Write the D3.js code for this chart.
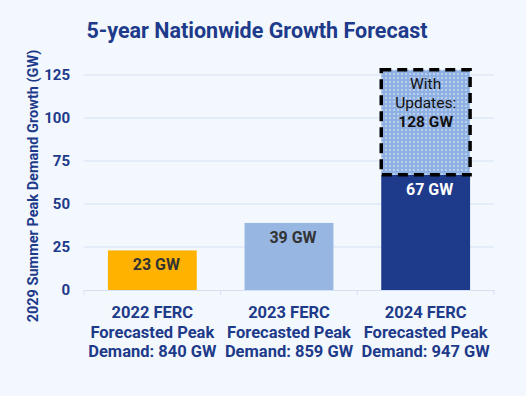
<!DOCTYPE html>
<html>
<head>
<meta charset="utf-8">
<script src="https://cdn.jsdelivr.net/npm/d3@7"></script>
<style>
  body { margin: 0; background: #f2f8fd; }
  svg { display: block; font-family: Roboto, "Noto Sans", sans-serif; }
</style>
</head>
<body>
<svg id="chart"></svg>
<script>
const categories = ['2022', '2023', '2024'];
const categoryLines = [
  ['2022 FERC', 'Forecasted Peak', 'Demand: 840 GW'],
  ['2023 FERC', 'Forecasted Peak', 'Demand: 859 GW'],
  ['2024 FERC', 'Forecasted Peak', 'Demand: 947 GW']
];
const growthValues = [23, 39, 67];
const valueLabels = ['23 GW', '39 GW', '67 GW'];
const updatedValue = 128;
const updatedLabel = ['With', 'Updates:', '128 GW'];
const yTicks = [0, 25, 50, 75, 100, 125];

const width = 526, height = 396;
const margin = { top: 70, right: 32, bottom: 106, left: 84 };
const navy = '#1e3a8a';
const barColors = ['#ffb300', '#97b6e2', '#1e3a8a'];

const svg = d3.select('#chart').attr('width', width).attr('height', height);

svg.append('rect').attr('width', width).attr('height', height).attr('fill', '#f2f8fd');

const x = d3.scaleBand()
  .domain(categories)
  .range([margin.left, width - margin.right])
  .paddingInner(0.35)
  .paddingOuter(0.175);

const y = d3.scaleLinear()
  .domain([0, 125])
  .range([height - margin.bottom, margin.top + 5]);

// dotted fill pattern
const defs = svg.append('defs');
const pat = defs.append('pattern')
  .attr('id', 'dots')
  .attr('patternUnits', 'userSpaceOnUse')
  .attr('width', 4).attr('height', 4);
pat.append('rect').attr('width', 4).attr('height', 4).attr('fill', '#8fb0e2');
pat.append('circle').attr('cx', 2).attr('cy', 2).attr('r', 0.75).attr('fill', '#ffffff');

// title
svg.append('text')
  .attr('x', 257).attr('y', 38)
  .attr('text-anchor', 'middle')
  .attr('font-size', 21.5).attr('font-weight', 700)
  .attr('fill', navy)
  .text('5-year Nationwide Growth Forecast');

// grid
svg.append('g')
  .selectAll('line')
  .data(yTicks.filter(d => d > 0))
  .join('line')
  .attr('x1', margin.left).attr('x2', width - margin.right)
  .attr('y1', d => y(d)).attr('y2', d => y(d))
  .attr('stroke', '#d5e0f5').attr('stroke-width', 1);

// y axis
const yAxis = svg.append('g')
  .attr('transform', `translate(${margin.left},0)`)
  .call(d3.axisLeft(y).tickValues(yTicks).tickSize(0).tickPadding(14));
yAxis.select('.domain').remove();
yAxis.selectAll('text')
  .attr('font-size', 15).attr('font-weight', 700)
  .attr('fill', navy).attr('font-family', 'Roboto, sans-serif');

svg.append('text')
  .attr('transform', `translate(38, ${y(0) - 104}) rotate(-90)`)
  .attr('text-anchor', 'middle')
  .attr('font-size', 14.5).attr('font-weight', 700)
  .attr('fill', navy)
  .text('2029 Summer Peak Demand Growth (GW)');

// bars
svg.append('g')
  .selectAll('rect')
  .data(growthValues)
  .join('rect')
  .attr('x', (d, i) => x(categories[i]))
  .attr('y', d => y(d))
  .attr('width', x.bandwidth())
  .attr('height', d => y(0) - y(d))
  .attr('fill', (d, i) => barColors[i]);

// updates box
const last = categories[2];
svg.append('rect')
  .attr('x', x(last))
  .attr('y', y(updatedValue))
  .attr('width', x.bandwidth())
  .attr('height', y(growthValues[2]) - y(updatedValue))
  .attr('fill', 'url(#dots)')
  .attr('stroke', '#000').attr('stroke-width', 3.5)
  .attr('stroke-dasharray', '10,6');

svg.append('text')
  .attr('x', x(last) + x.bandwidth() / 2)
  .attr('y', y(updatedValue))
  .attr('text-anchor', 'middle')
  .attr('font-size', 15.5)
  .attr('fill', '#111')
  .selectAll('tspan')
  .data(updatedLabel)
  .join('tspan')
  .attr('x', x(last) + x.bandwidth() / 2)
  .attr('dy', (d, i) => i === 0 ? 19 : 19)
  .attr('font-weight', (d, i) => i === 2 ? 700 : 400)
  .text(d => d);

// value labels
svg.append('g')
  .selectAll('text')
  .data(growthValues)
  .join('text')
  .attr('x', (d, i) => x(categories[i]) + x.bandwidth() / 2 + 4)
  .attr('y', d => y(d) + 20)
  .attr('text-anchor', 'middle')
  .attr('font-size', 16).attr('font-weight', 700)
  .attr('fill', (d, i) => i === 2 ? '#ffffff' : '#333333')
  .text((d, i) => valueLabels[i]);

// x axis
const xAxis = svg.append('g')
  .attr('transform', `translate(0,${y(0)})`)
  .call(d3.axisBottom(x).tickSize(0).tickFormat(''));
xAxis.select('.domain').attr('stroke', '#d5e0f5');

const bounds = [margin.left, ...categories.map(c => x(c) + x.bandwidth() + x.step() * x.paddingInner() / 2)];
bounds[3] = width - margin.right;
svg.append('g')
  .selectAll('line')
  .data(bounds)
  .join('line')
  .attr('x1', d => d).attr('x2', d => d)
  .attr('y1', y(0)).attr('y2', y(0) + 5)
  .attr('stroke', '#d5e0f5');

const labels = svg.append('g')
  .selectAll('text')
  .data(categoryLines)
  .join('text')
  .attr('x', (d, i) => x(categories[i]) + x.bandwidth() / 2)
  .attr('y', y(0) + 28)
  .attr('text-anchor', 'middle')
  .attr('font-size', 16.5).attr('font-weight', 700)
  .attr('fill', navy);
labels.selectAll('tspan')
  .data(d => d)
  .join('tspan')
  .attr('x', function () { return d3.select(this.parentNode).attr('x'); })
  .attr('dy', (d, i) => i === 0 ? 0 : 19.5)
  .text(d => d);
</script>
</body>
</html>
